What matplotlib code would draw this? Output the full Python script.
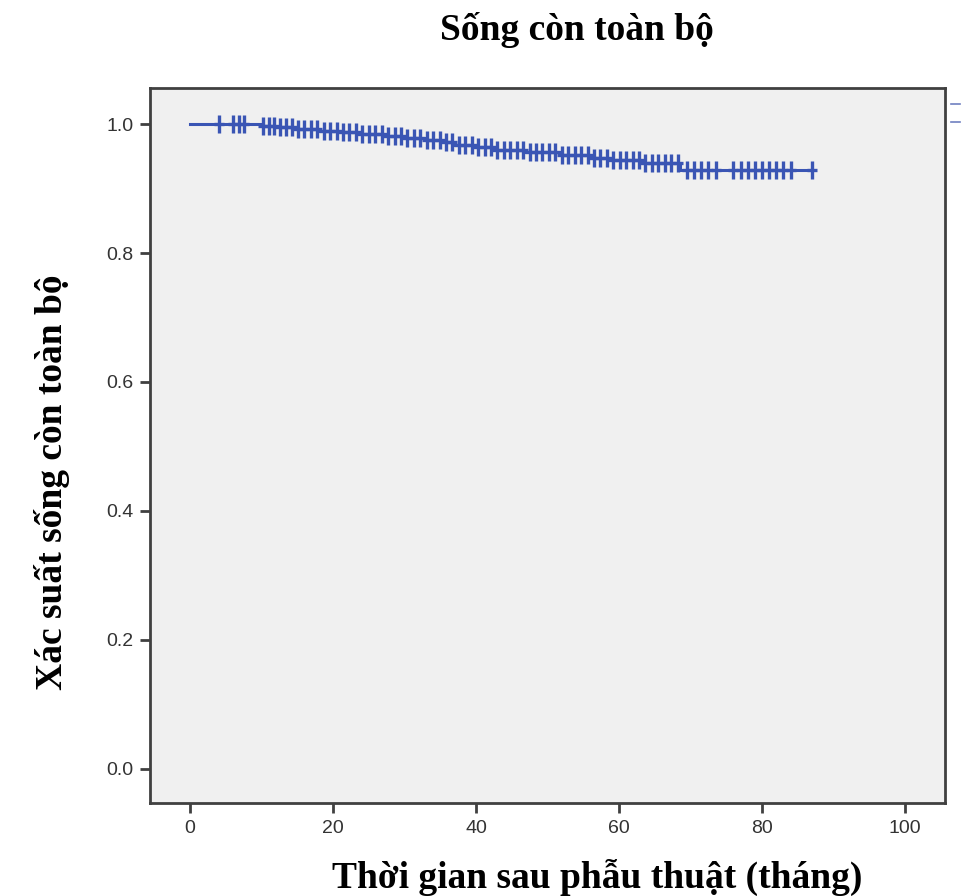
import matplotlib
matplotlib.use("Agg")
import matplotlib.pyplot as plt
from matplotlib.lines import Line2D

# Kaplan-Meier step data
event_times = [10, 12, 15, 18, 21, 24, 27, 30, 33, 35, 37, 40, 43, 47, 52, 56, 59, 63, 68.5]
event_surv = [0.997, 0.995, 0.993, 0.990, 0.988, 0.985, 0.982, 0.979, 0.976, 0.972,
              0.968, 0.964, 0.960, 0.956, 0.952, 0.948, 0.944, 0.940, 0.929]
end_time = 87

censor_times = [4, 6, 6.8, 7.5, 10.2, 11, 11.8, 12.6, 13.4, 14.2, 15.1, 16, 16.9, 17.8,
                18.7, 19.6, 20.5, 21.4, 22.3, 23.2, 24.1, 25, 25.9, 26.8, 27.7, 28.6,
                29.5, 30.4, 31.3, 32.2, 33.1, 34, 34.9, 35.8, 36.7, 37.6, 38.5, 39.4,
                40.3, 41.2, 42.1, 43, 43.9, 44.8, 45.7, 46.6, 47.5, 48.4, 49.3, 50.2,
                51.1, 52, 52.9, 53.8, 54.7, 55.6, 56.5, 57.4, 58.3, 59.2, 60.1, 61,
                61.9, 62.8, 63.7, 64.6, 65.5, 66.4, 67.3, 68.2, 69.5, 70.5, 71.5, 72.5,
                73.5, 76, 77, 78, 79, 80, 81, 82, 83, 84, 87]

x_ticks = [0, 20, 40, 60, 80, 100]
y_ticks = [0.0, 0.2, 0.4, 0.6, 0.8, 1.0]

title = "Sống còn toàn bộ"
xlabel = "Thời gian sau phẫu thuật (tháng)"
ylabel = "Xác suất sống còn toàn bộ"

color = "#3a55b4"

fig = plt.figure(figsize=(9.64, 8.96), dpi=100)
ax = fig.add_axes([0.1556, 0.1038, 0.8247, 0.798])
ax.set_facecolor("#f0f0f0")

# Build step curve
xs = [0]
ys = [1.0]
cur = 1.0
for t, s in zip(event_times, event_surv):
    xs += [t, t]
    ys += [cur, s]
    cur = s
xs.append(end_time)
ys.append(cur)
ax.plot(xs, ys, color=color, lw=2.2, solid_joinstyle="miter")

def surv_at(t):
    s = 1.0
    for et, es in zip(event_times, event_surv):
        if t >= et:
            s = es
    return s

cy = [surv_at(t) for t in censor_times]
ax.plot(censor_times, cy, linestyle="none",
        marker="|", markersize=13, markeredgewidth=2.4, color=color)
ax.plot(censor_times, cy, linestyle="none",
        marker="_", markersize=7, markeredgewidth=2.4, color=color)

ax.set_xlim(-5.6, 105.6)
ax.set_ylim(-0.053, 1.056)
ax.set_xticks(x_ticks)
ax.set_xticklabels([str(v) for v in x_ticks])
ax.set_yticks(y_ticks)
ax.set_yticklabels([f"{v:.1f}" for v in y_ticks])

for sp in ax.spines.values():
    sp.set_color("#404040")
    sp.set_linewidth(2)
ax.tick_params(direction="out", length=7, width=2, color="#404040",
               labelsize=14, labelcolor="#333333", pad=5)
for lab in ax.get_xticklabels() + ax.get_yticklabels():
    lab.set_fontfamily("Liberation Sans")

fig.text(0.598, 0.966, title, ha="center", va="center", fontsize=27,
         fontweight="bold", family="Liberation Serif")
fig.text(0.620, 0.021, xlabel, ha="center", va="center", fontsize=27,
         fontweight="bold", family="Liberation Serif")
fig.text(0.054, 0.462, ylabel, ha="center", va="center", fontsize=27,
         fontweight="bold", family="Liberation Serif", rotation=90)

# legend remnants at the right edge
for yy in [0.884, 0.864]:
    fig.add_artist(Line2D([0.986, 0.996], [yy, yy], color="#7080c0", lw=1.2))

fig.savefig("out.png", dpi=100)
